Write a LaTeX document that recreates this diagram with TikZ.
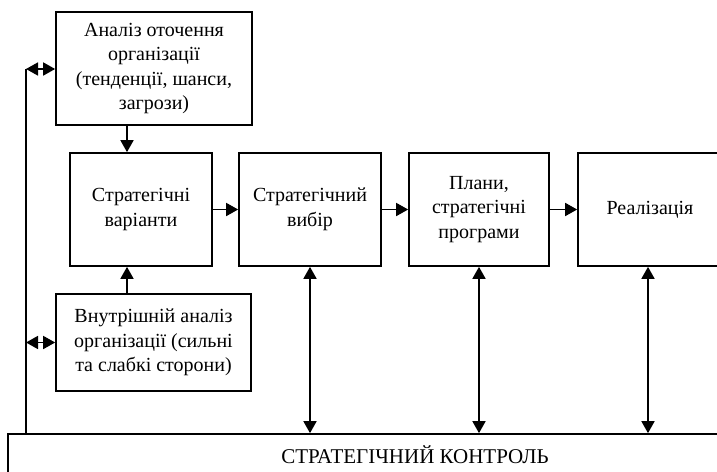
\documentclass[tikz,border=0pt]{standalone}
\usepackage{fontspec}
\setmainfont{Liberation Serif}
\usetikzlibrary{arrows.meta}
\begin{document}
\begin{tikzpicture}[x=1pt,y=1pt,
  box/.style={draw, line width=1.7pt, rectangle, align=center, inner sep=2pt,
    font=\fontsize{20}{24.5}\selectfont},
  arr/.style={line width=1.7pt, -{Triangle[length=12pt,width=13pt]}},
  darr/.style={line width=1.7pt, {Triangle[length=12pt,width=13pt]}-{Triangle[length=12pt,width=13pt]}}]
\clip (0,0) rectangle (717,-471);
\fill[white] (0,0) rectangle (717,-471);
\node[box, minimum width=196pt, minimum height=113pt] (A) at (154,-68.5)
  {Аналіз оточення\\організації\\(тенденції, шанси,\\загрози)};
\node[box, minimum width=142pt, minimum height=113pt] (B) at (141,-209.5)
  {Стратегічні\\варіанти};
\node[box, minimum width=142pt, minimum height=113pt] (C) at (310,-209.5)
  {Стратегічний\\вибір};
\node[box, minimum width=140pt, minimum height=113pt] (D) at (479,-209.5)
  {Плани,\\стратегічні\\програми};
\node[box, minimum width=144pt, minimum height=113pt] (E) at (650,-209.5)
  {Реалізація};
\node[box, minimum width=195pt, minimum height=97pt] (F) at (153.5,-342.5)
  {Внутрішній аналіз\\організації (сильні\\та слабкі сторони)};
\node[box, minimum width=814pt, minimum height=42pt, font=\fontsize{21}{24}\selectfont] (G) at (415,-455)
  {СТРАТЕГІЧНИЙ КОНТРОЛЬ};
\coordinate (lb) at (26,-434);
\coordinate (lt) at (26,-69);
\draw[line width=1.7pt] (lb) -- (lt);
\draw[darr] (lt) -- (lt -| A.west);
\draw[darr] (lt |- F.west) -- (F.west);
\draw[arr] ([xshift=-14pt]B.north |- A.south) -- ([xshift=-14pt]B.north);
\draw[arr] ([xshift=-14pt]B.south |- F.north) -- ([xshift=-14pt]B.south);
\draw[arr] (B.east) -- (C.west);
\draw[arr] (C.east) -- (D.west);
\draw[arr] (D.east) -- (E.west);
\draw[darr] (C.south) -- (C.south |- G.north);
\draw[darr] (D.south) -- (D.south |- G.north);
\draw[darr] ([xshift=-2pt]E.south) -- ([xshift=-2pt]E.south |- G.north);
\end{tikzpicture}
\end{document}
